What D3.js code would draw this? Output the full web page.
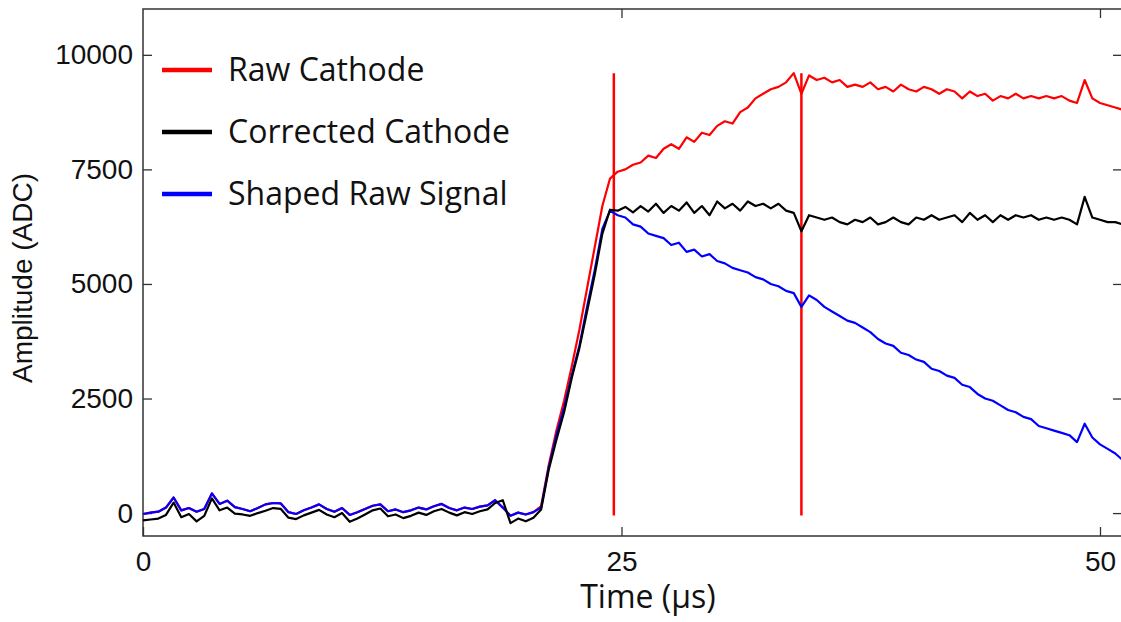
<!DOCTYPE html>
<html>
<head>
<meta charset="utf-8">
<script src="https://cdn.jsdelivr.net/npm/d3@7"></script>
<style>
  body { margin: 0; background: #fff; }
  .tick text { font-family: "Liberation Sans", Arial, sans-serif; font-size: 28px; fill: #111; }
  .tick line { stroke: #333; stroke-width: 1.3; }
  .lbl { font-family: "Open Sans", sans-serif; font-size: 32px; fill: #111; }
</style>
</head>
<body>
<div id="chart"></div>
<script>
// sampling step of the trace (us)
var dt = 0.4;

var seriesNames = ["Raw Cathode", "Corrected Cathode", "Shaped Raw Signal"];
var seriesColors = ["#ff0000", "#000000", "#0000ff"];

var xTicks = [0, 25, 50];
var yTicks = [0, 2500, 5000, 7500, 10000];

// vertical markers (us)
var markers = [24.6, 34.4];

var rawCathode = [
  -20, 10, 30, 120, 340, 60, 110, 30, 90, 430,
  200, 270, 130, 90, 40, 110, 190, 220, 210, 20,
  -20, 60, 120, 190, 90, 30, 110, -40, 20, 90,
  160, 190, 40, 80, 20, 60, 120, 80, 150, 200,
  110, 60, 120, 90, 140, 170, 280, 120, -60, 10,
  -30, 20, 150, 1050, 1800, 2450, 3200, 4000, 4900, 5800,
  6700, 7300, 7450, 7500, 7600, 7650, 7800, 7750, 7950, 8050,
  7950, 8200, 8100, 8300, 8250, 8450, 8550, 8500, 8750, 8850,
  9050, 9150, 9250, 9300, 9400, 9600, 9150, 9550, 9450, 9500,
  9400, 9450, 9300, 9350, 9300, 9400, 9250, 9300, 9200, 9350,
  9250, 9200, 9300, 9250, 9150, 9250, 9200, 9050, 9200, 9100,
  9150, 9000, 9100, 9050, 9150, 9050, 9100, 9050, 9100, 9050,
  9100, 9000, 8950, 9450, 9050, 8950, 8900, 8850, 8800
];

var correctedCathode = [
  -160, -140, -120, -40, 230, -90, -20, -180, -60, 320,
  60, 120, -10, -30, -60, 0, 50, 110, 90, -100,
  -130, -50, 10, 70, -30, -90, 0, -190, -120, -30,
  60, 100, -70, -30, -110, -60, 10, -40, 40, 90,
  10, -50, 20, -20, 40, 80, 220, 280, -220, -120,
  -180, -100, 80, 950, 1600, 2200, 2950, 3600, 4400, 5200,
  6100, 6620, 6600, 6680, 6560, 6700, 6580, 6750, 6550, 6700,
  6600, 6780, 6550, 6700, 6500, 6800, 6650, 6750, 6600, 6800,
  6700, 6750, 6650, 6750, 6600, 6550, 6150, 6500, 6450, 6400,
  6450, 6350, 6300, 6400, 6350, 6450, 6300, 6350, 6450, 6350,
  6300, 6450, 6400, 6500, 6400, 6450, 6500, 6350, 6550, 6400,
  6500, 6350, 6500, 6400, 6500, 6450, 6500, 6400, 6450, 6400,
  6450, 6400, 6300, 6900, 6450, 6400, 6350, 6350, 6300
];

var shapedSignal = [
  -20, 10, 30, 120, 340, 60, 110, 30, 90, 430,
  200, 270, 130, 90, 40, 110, 190, 220, 210, 20,
  -20, 60, 120, 190, 90, 30, 110, -40, 20, 90,
  160, 190, 40, 80, 20, 60, 120, 80, 150, 200,
  110, 60, 120, 90, 140, 170, 280, 120, -60, 10,
  -30, 20, 120, 1000, 1700, 2300, 3000, 3650, 4500, 5300,
  6200, 6600, 6500, 6450, 6300, 6250, 6100, 6050, 6000, 5850,
  5900, 5700, 5750, 5600, 5650, 5500, 5450, 5350, 5300, 5250,
  5150, 5100, 5000, 4950, 4850, 4800, 4500, 4750, 4650, 4500,
  4400, 4300, 4200, 4150, 4050, 3950, 3800, 3700, 3650, 3500,
  3450, 3350, 3300, 3150, 3100, 3000, 2950, 2800, 2750, 2600,
  2500, 2450, 2350, 2250, 2200, 2100, 2050, 1900, 1850, 1800,
  1750, 1700, 1550, 1950, 1650, 1500, 1400, 1300, 1150
];

// draw order: red under blue under black
var series = [
  {values: rawCathode, color: seriesColors[0]},
  {values: shapedSignal, color: seriesColors[2]},
  {values: correctedCathode, color: seriesColors[1]}
];

var width = 1121, height = 622;
var plot = {left: 143, right: 1122, top: 9, bottom: 536};

var svg = d3.select("#chart").append("svg")
  .attr("width", width)
  .attr("height", height)
  .style("background", "#fff");

var x = d3.scaleLinear().domain([0, 51.15]).range([plot.left, plot.right]);
var y = d3.scaleLinear().domain([-500, 11000]).range([plot.bottom, plot.top]);

svg.append("clipPath").attr("id", "clip")
  .append("rect")
  .attr("x", plot.left).attr("y", plot.top)
  .attr("width", plot.right - plot.left).attr("height", plot.bottom - plot.top);

// axes, ticks pointing inwards
var axL = svg.append("g").attr("transform", "translate(" + plot.left + ",0)")
  .call(d3.axisLeft(y).tickValues(yTicks).tickFormat(d3.format("d"))
    .tickSizeInner(-9).tickSizeOuter(0).tickPadding(10));
var axR = svg.append("g").attr("transform", "translate(" + plot.right + ",0)")
  .call(d3.axisRight(y).tickValues(yTicks).tickSizeInner(-9).tickSizeOuter(0).tickFormat(""));
var axB = svg.append("g").attr("transform", "translate(0," + plot.bottom + ")")
  .call(d3.axisBottom(x).tickValues(xTicks).tickFormat(d3.format("d"))
    .tickSizeInner(-9).tickSizeOuter(0).tickPadding(15));
var axT = svg.append("g").attr("transform", "translate(0," + plot.top + ")")
  .call(d3.axisTop(x).tickValues(xTicks.slice(1)).tickSizeInner(-9).tickSizeOuter(0).tickFormat(""));
[axL, axR, axB, axT].forEach(function(a) { a.select(".domain").remove(); });

// frame
svg.append("rect")
  .attr("x", plot.left).attr("y", plot.top)
  .attr("width", plot.right - plot.left).attr("height", plot.bottom - plot.top)
  .attr("fill", "none").attr("stroke", "#333").attr("stroke-width", 1.5);

var g = svg.append("g").attr("clip-path", "url(#clip)");

// vertical markers
g.selectAll(".marker").data(markers).enter().append("line")
  .attr("x1", function(d) { return x(d); })
  .attr("x2", function(d) { return x(d); })
  .attr("y1", y(-50))
  .attr("y2", y(9600))
  .attr("stroke", "#ff0000")
  .attr("stroke-width", 2.5);

var line = d3.line()
  .x(function(d, i) { return x(i * dt); })
  .y(function(d) { return y(d); });

g.selectAll(".trace").data(series).enter().append("path")
  .attr("fill", "none")
  .attr("stroke", function(d) { return d.color; })
  .attr("stroke-width", 2.2)
  .attr("stroke-linejoin", "round")
  .attr("d", function(d) { return line(d.values); });

// legend
var legendY = [70, 132, 194];
var leg = svg.append("g");
seriesNames.forEach(function(name, i) {
  leg.append("line")
    .attr("x1", 162).attr("x2", 212)
    .attr("y1", legendY[i]).attr("y2", legendY[i])
    .attr("stroke", seriesColors[i])
    .attr("stroke-width", 4.5);
  leg.append("text")
    .attr("class", "lbl")
    .attr("x", 228)
    .attr("y", legendY[i] + 11)
    .text(name);
});

// axis titles
svg.append("text")
  .attr("class", "lbl")
  .attr("x", 648).attr("y", 608)
  .attr("text-anchor", "middle")
  .text("Time (\u00b5s)");

svg.append("text")
  .attr("transform", "translate(32,278) rotate(-90)")
  .attr("text-anchor", "middle")
  .style("font-family", "'Liberation Sans', Arial, sans-serif")
  .style("font-size", "28px")
  .style("fill", "#111")
  .text("Amplitude (ADC)");
</script>
</body>
</html>
